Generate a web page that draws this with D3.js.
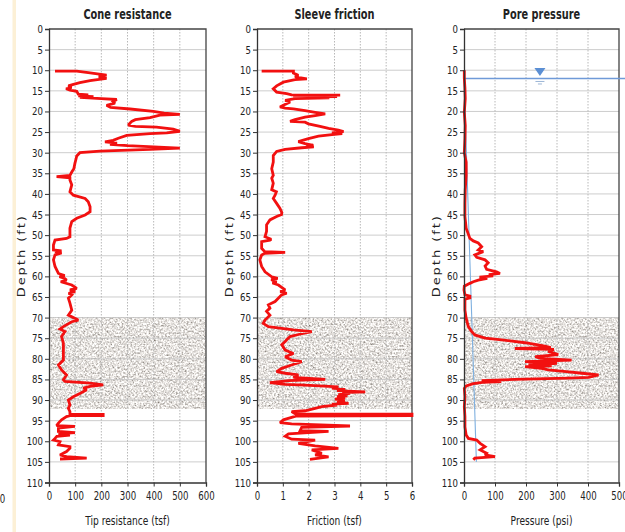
<!DOCTYPE html>
<html>
<head>
<meta charset="utf-8">
<script src="https://cdn.jsdelivr.net/npm/d3@7/dist/d3.min.js"></script>
<style>
  html, body { margin: 0; padding: 0; background: #fff; }
  svg { display: block; }
  text { font-family: "DejaVu Sans", Verdana, sans-serif; fill: #222; }
</style>
</head>
<body>
<svg id="chart" width="625" height="532"></svg>
<script>
// ---- CPT log data: [depth (ft), reading] ----
const depthTicks = [0,5,10,15,20,25,30,35,40,45,50,55,60,65,70,75,80,85,90,95,100,105,110];
const coneTicks = [0,100,200,300,400,500,600];
const frictionTicks = [0,1,2,3,4,5,6];
const pressureTicks = [0,100,200,300,400,500];

const panelTitles = ["Cone resistance", "Sleeve friction", "Pore pressure"];
const axisTitles = ["Tip resistance (tsf)", "Friction (tsf)", "Pressure (psi)"];

const coneResistance = [
  [10.2,23],[10.2,106],[10.6,150],[11.2,220],[11.6,190],[12.0,220],[12.5,157],[13.0,118],[13.5,90],
  [13.8,74],[14.2,86],[14.5,65],[14.8,80],[15.1,106],[15.8,112],[16.0,150],[16.2,112],[16.4,170],
  [16.6,118],[16.9,200],[17.1,259],[17.6,245],[18.0,252],[18.5,220],[19.0,235],[19.4,310],[20.0,399],
  [20.4,440],[20.7,500],[20.9,424],[21.5,386],[22.0,330],[22.4,316],[23.3,303],[23.6,330],[23.8,411],
  [24.3,475],[24.8,500],[25.2,450],[25.4,386],[25.8,297],[26.5,265],[27.0,245],[27.4,214],[27.7,260],
  [28.0,233],[28.3,300],[28.9,500],[29.2,386],[29.6,195],[30.0,118],[30.8,106],[31.6,103],[32.6,99],
  [33.9,95],[34.7,87],[35.5,80],[35.8,29],[36.1,80],[36.6,80],[37.8,87],[39.5,80],[40.3,93],[41.1,138],
  [41.9,150],[43.1,157],[44.3,157],[45.1,138],[45.9,106],[46.7,87],[48.3,80],[50.4,80],[50.8,67],
  [51.2,23],[52.4,17],[53.6,17],[53.8,48],[54.0,23],[54.3,48],[54.8,23],[56.0,17],[57.6,23],[59.3,36],
  [59.8,60],[60.1,40],[60.5,60],[60.9,67],[61.3,45],[62.1,87],[62.9,106],[63.3,80],[63.7,100],[64.1,75],
  [64.5,87],[65.3,74],[66.5,80],[68.2,87],[69.4,74],[70.6,112],[71.0,87],[72.2,55],[72.8,42],[73.4,61],
  [74.6,48],[76.2,55],[77.9,55],[80.3,55],[81.5,36],[82.7,48],[83.9,67],[85.1,55],[85.5,61],[85.9,157],
  [86.3,207],[86.7,157],[87.1,131],[87.5,144],[88.4,118],[89.2,93],[90.0,74],[91.2,80],[92.0,74],
  [92.8,80],[93.4,80],[93.45,207],[93.75,207],[93.8,80],[94.0,67],[94.8,48],[95.6,36],[96.2,29],
  [96.4,99],[96.8,36],[97.6,36],[97.9,99],[98.2,36],[98.5,80],[98.8,30],[99.3,23],[99.7,17],[100.1,42],
  [100.9,36],[101.3,80],[101.7,80],[102.5,67],[103.3,42],[103.7,67],[104.1,144],[104.3,42]
];

const sleeveFriction = [
  [10.2,0.18],[10.2,1.41],[10.7,1.41],[11.2,1.6],[11.6,1.47],[12.1,1.93],[12.3,1.47],[12.9,1.02],
  [13.8,0.76],[14.5,0.63],[15.3,0.76],[15.7,1.15],[16.0,1.34],[16.05,3.22],[16.2,1.4],[16.4,3.1],
  [16.5,1.53],[16.7,2.8],[16.9,1.47],[17.3,1.09],[17.7,1.28],[18.5,1.02],[18.9,0.89],[19.2,1.09],
  [19.4,1.41],[19.8,1.86],[20.2,2.25],[20.6,2.64],[21.0,2.25],[21.4,1.86],[22.0,1.47],[22.4,1.28],
  [22.6,1.86],[23.0,1.99],[23.6,2.44],[24.1,2.77],[24.5,3.15],[24.9,3.35],[25.2,2.9],[25.4,3.3],
  [25.6,2.9],[26.0,2.38],[26.6,1.99],[27.3,1.6],[27.8,1.86],[28.2,2.18],[28.4,1.9],[28.6,2.2],
  [28.8,1.73],[29.2,1.09],[29.7,0.76],[30.7,0.63],[32.3,0.63],[33.9,0.57],[35.5,0.63],[36.2,0.57],
  [37.4,0.63],[39.0,0.57],[39.5,0.75],[40.3,0.7],[41.1,0.63],[42.3,0.76],[43.5,0.89],[44.5,0.96],
  [45.0,0.95],[45.5,0.76],[46.3,0.5],[47.5,0.37],[49.1,0.37],[50.4,0.31],[51.0,0.55],[51.2,0.5],
  [51.6,0.18],[53.2,0.18],[54.0,0.3],[54.2,1.09],[54.4,0.3],[54.8,0.18],[56.0,0.11],[57.6,0.18],
  [58.9,0.31],[60.1,0.57],[60.5,0.8],[60.8,0.55],[61.3,0.76],[61.6,0.6],[62.1,0.83],[63.3,1.09],
  [63.7,0.9],[64.1,1.15],[64.5,0.95],[64.9,0.89],[66.1,0.7],[66.9,0.44],[67.7,0.5],[68.5,0.37],
  [69.4,0.5],[70.6,0.31],[71.4,0.24],[72.2,0.44],[72.6,0.96],[73.0,1.41],[73.4,2.12],[74.1,1.6],
  [74.6,1.28],[75.4,1.15],[75.8,1.09],[76.6,0.96],[77.9,1.09],[78.7,1.41],[79.5,1.09],[80.3,1.34],
  [80.7,1.73],[81.5,1.34],[82.3,0.96],[83.1,0.76],[83.5,1.09],[83.9,1.6],[84.5,1.41],[85.0,2.64],
  [85.3,1.22],[85.8,0.5],[86.2,1.09],[86.4,1.86],[86.8,3.15],[87.1,2.9],[87.4,3.41],[87.7,3.1],
  [88.0,4.19],[88.2,3.3],[88.4,3.6],[88.7,3.15],[89.0,3.5],[89.2,3.1],[89.5,3.41],[89.8,3.02],
  [90.1,3.4],[90.4,3.1],[90.8,3.54],[91.0,2.9],[91.2,3.1],[91.6,2.51],[92.0,2.25],[92.6,1.86],
  [92.8,1.34],[93.4,1.5],[93.45,6.0],[93.75,6.0],[93.9,1.5],[94.2,1.34],[94.8,1.02],[95.5,0.89],
  [95.8,1.34],[96.3,3.6],[96.6,1.73],[97.4,1.67],[97.6,2.77],[98.2,1.22],[98.8,1.09],[99.5,1.34],
  [99.7,2.25],[100.5,1.6],[101.1,2.25],[101.7,3.15],[102.1,2.12],[102.9,2.51],[103.3,2.25],
  [103.8,2.77],[104.4,2.05]
];

const porePressure = [
  [10.0,1],[12.0,1],[14.3,3],[16.9,4],[20.2,1],[23.4,4],[26.6,3],[30.0,1],[32.3,7],[35.5,7],[39.0,4],
  [42.3,3],[45.5,3],[48.3,7],[50.8,19],[51.4,30],[51.9,46],[52.8,57],[53.6,46],[54.0,62],[54.8,35],
  [55.4,41],[56.0,68],[56.7,78],[57.5,68],[58.3,73],[58.9,105],[59.3,116],[59.6,80],[59.9,94],
  [60.2,50],[60.5,75],[60.9,46],[61.3,30],[61.7,19],[62.4,1],[63.3,0],[64.5,3],[64.8,19],[65.2,19],
  [65.5,3],[68.2,3],[70.2,7],[72.2,14],[73.4,25],[74.2,35],[75.0,68],[75.4,122],[76.1,197],[76.9,261],
  [77.3,280],[77.5,164],[77.7,290],[78.2,272],[79.0,304],[79.5,230],[79.9,247],[80.3,347],[80.7,197],
  [81.1,300],[81.5,208],[81.7,283],[81.9,197],[82.3,250],[82.7,272],[83.1,330],[83.5,380],[83.9,434],
  [84.5,402],[84.7,336],[85.0,164],[85.3,57],[85.5,120],[85.7,60],[86.0,30],[86.6,7],[87.2,1],
  [89.2,3],[91.6,1],[94.0,3],[96.5,3],[98.5,7],[99.3,14],[99.7,41],[100.5,52],[101.3,68],[102.1,52],
  [102.9,73],[103.3,68],[103.7,100],[104.1,35],[104.5,30]
];

// hydrostatic pressure below the water table, and the water table itself
const hydrostatic = [[12,0],[105,40]];
const waterTableDepth = 12;
const waterMarkerPressure = 245;

// clay layer shown as a speckled band
const clayLayer = [70, 92];

// ---- layout ----
const svg = d3.select("#chart");
const y = d3.scaleLinear().domain([0, 110]).range([29, 482.5]);

const panels = [
  { title: panelTitles[0], label: axisTitles[0], data: coneResistance, ticks: coneTicks,
    x: d3.scaleLinear().domain([0, 600]).range([49, 206]) },
  { title: panelTitles[1], label: axisTitles[1], data: sleeveFriction, ticks: frictionTicks,
    x: d3.scaleLinear().domain([0, 6]).range([257, 412]) },
  { title: panelTitles[2], label: axisTitles[2], data: porePressure, ticks: pressureTicks,
    x: d3.scaleLinear().domain([0, 500]).range([464, 619]) }
];

// grain texture for the clay band
const defs = svg.append("defs");
const grain = defs.append("filter").attr("id", "grain")
  .attr("x", 0).attr("y", 0).attr("width", 1).attr("height", 1);
grain.append("feTurbulence").attr("type", "fractalNoise")
  .attr("baseFrequency", 0.55).attr("numOctaves", 2).attr("seed", 7).attr("result", "n");
grain.append("feColorMatrix").attr("in", "n").attr("type", "matrix")
  .attr("values", "1.5 0 0 0 0.04  1.5 0 0 0 0.015  1.5 0 0 0 -0.01  0 0 0 0 1");

// decorative page strip on the far left
svg.append("rect").attr("x", 12.5).attr("y", 0).attr("width", 3.5).attr("height", 532)
  .attr("fill", "#fcf0d6");

// squeezed text helper (the log font is narrow)
function label(g, str, x, yy, opts) {
  const o = Object.assign({ size: 12, sx: 0.72, weight: "normal", anchor: "middle", rotate: 0, ls: 0 }, opts);
  return g.append("text")
    .attr("transform", `translate(${x},${yy}) scale(${o.sx},1)` + (o.rotate ? ` rotate(${o.rotate})` : ""))
    .attr("text-anchor", o.anchor)
    .style("font-size", o.size + "px")
    .style("font-weight", o.weight)
    .style("letter-spacing", o.ls + "px")
    .text(str);
}

// cut-off tick label of the neighbouring log
label(svg, "0", 2.5, 503, { size: 13, sx: 0.66 });

const line = (px) => d3.line().x(d => px(d[1])).y(d => y(d[0]));

panels.forEach((p, i) => {
  const g = svg.append("g");
  const [x0, x1] = p.x.range();
  const [y0, y1] = y.range();

  // clay band
  g.append("rect")
    .attr("x", x0).attr("width", x1 - x0)
    .attr("y", y(clayLayer[0])).attr("height", y(clayLayer[1]) - y(clayLayer[0]))
    .attr("fill", "#c2bab2").attr("filter", "url(#grain)");

  // grid
  g.append("g").selectAll("line").data(depthTicks.slice(1, -1)).join("line")
    .attr("x1", x0).attr("x2", x1).attr("y1", d => y(d)).attr("y2", d => y(d))
    .attr("stroke", "#c4c4c4").attr("stroke-opacity", 0.85).attr("stroke-width", 1);
  g.append("g").selectAll("line").data(p.ticks.slice(1, -1)).join("line")
    .attr("x1", d => p.x(d)).attr("x2", d => p.x(d)).attr("y1", y0).attr("y2", y1)
    .attr("stroke", "#b8b8b8").attr("stroke-dasharray", "1.5,1.5").attr("stroke-width", 1);

  // top and right frame
  g.append("path")
    .attr("d", `M${x0},${y0}H${x1}V${y1}`)
    .attr("fill", "none").attr("stroke", "#444").attr("stroke-width", 1.3);

  // hydrostatic line and water table (pore pressure panel)
  if (i === 2) {
    g.append("line")
      .attr("x1", x0).attr("x2", 625)
      .attr("y1", y(waterTableDepth)).attr("y2", y(waterTableDepth))
      .attr("stroke", "#6f9ad8").attr("stroke-width", 1.4);
    g.append("path").datum(hydrostatic)
      .attr("d", line(p.x)).attr("fill", "none")
      .attr("stroke", "#7fb0e0").attr("stroke-width", 1.1);
  }

  // reading trace
  g.append("path").datum(p.data)
    .attr("d", line(p.x))
    .attr("fill", "none").attr("stroke", "#f21010")
    .attr("stroke-width", 2.8).attr("stroke-linejoin", "miter").attr("stroke-miterlimit", 2);

  if (i === 2) {
    const mx = p.x(waterMarkerPressure), wy = y(waterTableDepth);
    g.append("path")
      .attr("d", `M${mx - 5.5},${wy - 10.5}H${mx + 5.5}L${mx},${wy - 2.5}Z`)
      .attr("fill", "#5b8fd4");
    g.append("line").attr("x1", mx - 4.5).attr("x2", mx + 4.5)
      .attr("y1", wy + 3).attr("y2", wy + 3).attr("stroke", "#9db6d6").attr("stroke-width", 1);
    g.append("line").attr("x1", mx - 2).attr("x2", mx + 2)
      .attr("y1", wy + 5.5).attr("y2", wy + 5.5).attr("stroke", "#9db6d6").attr("stroke-width", 1);
  }

  // axes
  const ya = g.append("g").attr("transform", `translate(${x0},0)`)
    .call(d3.axisLeft(y).tickValues(depthTicks).tickSize(4).tickPadding(2));
  const xa = g.append("g").attr("transform", `translate(0,${y1})`)
    .call(d3.axisBottom(p.x).tickValues(p.ticks).tickFormat(d3.format("d")).tickSize(4).tickPadding(4));
  [ya, xa].forEach(a => {
    a.select(".domain").attr("stroke", "#333").attr("stroke-width", 1.3);
    a.selectAll(".tick line").attr("stroke", "#333");
    a.selectAll("text").style("font-family", "'DejaVu Sans', Verdana, sans-serif").attr("fill", "#222");
  });
  ya.selectAll("text").style("font-size", "11px")
    .each(function () {
      const t = d3.select(this);
      t.attr("x", +t.attr("x") / 0.78).attr("transform", "scale(0.78,1)");
    });
  xa.selectAll("text").style("font-size", "13px").attr("transform", "scale(0.66,1)");

  // titles
  const cx = (x0 + x1) / 2;
  label(g, p.title, cx, 18.5, { size: 14, weight: "bold", sx: 0.7 });
  label(g, p.label, cx, 525, { size: 13, sx: 0.7 });
  label(g, "Depth (ft)", x0 - 24, (y0 + y1) / 2, { size: 13, sx: 0.82, rotate: -90, ls: 2 });
});
</script>
</body>
</html>
